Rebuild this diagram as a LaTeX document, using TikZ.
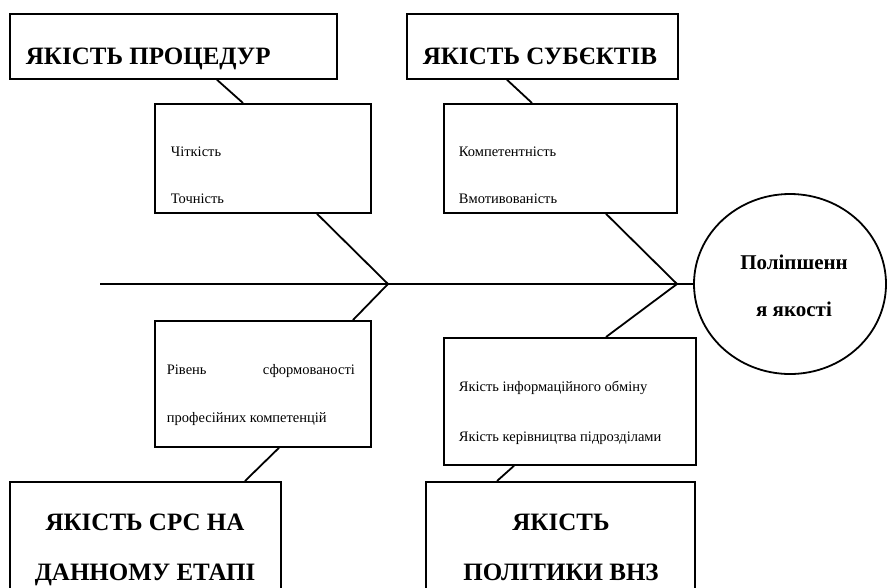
\documentclass[tikz,border=0pt]{standalone}
\usepackage{fontspec}
\setmainfont{Liberation Serif}
\usetikzlibrary{shapes.geometric}

\begin{document}
\begin{tikzpicture}[x=1pt,y=-1pt,line width=1.8pt,
    box/.style={draw,rectangle,inner sep=0pt,anchor=north west},
    head/.style={inner sep=0pt,font=\fontsize{25}{30}\selectfont\bfseries},
    item/.style={inner sep=0pt,anchor=base west,font=\fontsize{14.5}{17}\selectfont},
    goaltext/.style={inner sep=0pt,anchor=base,font=\fontsize{21}{25}\selectfont\bfseries}]
  \useasboundingbox (0,0) rectangle (888,587);
  \clip (0,0) rectangle (888,587);

  % heads of the bones
  \node[box,minimum width=327,minimum height=65] (tproc) at (9,13) {};
  \node[head,anchor=base west] (lproc) at (25,64) {ЯКІСТЬ ПРОЦЕДУР};
  \node[box,minimum width=271,minimum height=65] (tsubj) at (406,13) {};
  \node[head,anchor=base west] (lsubj) at (422,64) {ЯКІСТЬ СУБЄКТІВ};
  \node[box,minimum width=271,minimum height=130] (tsrs) at (9,481) {};
  \node[head,anchor=base] (lsrs1) at (145,530) {ЯКІСТЬ СРС НА};
  \node[head,anchor=base] (lsrs2) at (145,580) {ДАННОМУ ЕТАПІ};
  \node[box,minimum width=269,minimum height=130] (tpol) at (425,481) {};
  \node[head,anchor=base] (lpol1) at (561,530) {ЯКІСТЬ};
  \node[head,anchor=base] (lpol2) at (561,580) {ПОЛІТИКИ ВНЗ};

  % factor boxes
  \node[box,minimum width=216,minimum height=109] (bproc) at (154,103) {};
  \node[item] (clear) at (170,156) {Чіткість};
  \node[item] (exact) at (170,203) {Точність};
  \node[box,minimum width=233,minimum height=109] (bsubj) at (443,103) {};
  \node[item] (comp) at (458,156) {Компетентність};
  \node[item] (motiv) at (458,203) {Вмотивованість};
  \node[box,minimum width=216,minimum height=126] (bsrs) at (154,320) {};
  \node[item] (level) at (166,374) {\makebox[188pt][s]{Рівень\hfill сформованості}};
  \node[item] (prof) at (166,422) {професійних компетенцій};
  \node[box,minimum width=252,minimum height=127] (bpol) at (443,337) {};
  \node[item] (info) at (458,391) {Якість інформаційного обміну};
  \node[item] (lead) at (458,441) {Якість керівництва підрозділами};

  % goal
  \node[draw,ellipse,minimum width=192,minimum height=180,inner sep=0pt] (goal) at (790,284) {};
  \node[goaltext] (g1) at (794,269) {Поліпшенн};
  \node[goaltext] (g2) at (794,316) {я якості};

  % spine and bones
  \coordinate (tail) at (100,284);
  \coordinate (j1) at (388,284);
  \coordinate (j2) at (677,284);
  \draw (tail) -- (goal.west);
  \draw (tproc.south -| 217,0) -- (bproc.north -| 243,0);
  \draw (tsubj.south -| 507,0) -- (bsubj.north -| 532,0);
  \draw (bproc.south -| 317,0) -- (j1);
  \draw (bsubj.south -| 606,0) -- (j2);
  \draw (j1) -- (bsrs.north -| 353,0);
  \draw (j2) -- (bpol.north -| 606,0);
  \draw (bsrs.south -| 279,0) -- (tsrs.north -| 245,0);
  \draw (bpol.south -| 514,0) -- (tpol.north -| 497,0);
\end{tikzpicture}
\end{document}
